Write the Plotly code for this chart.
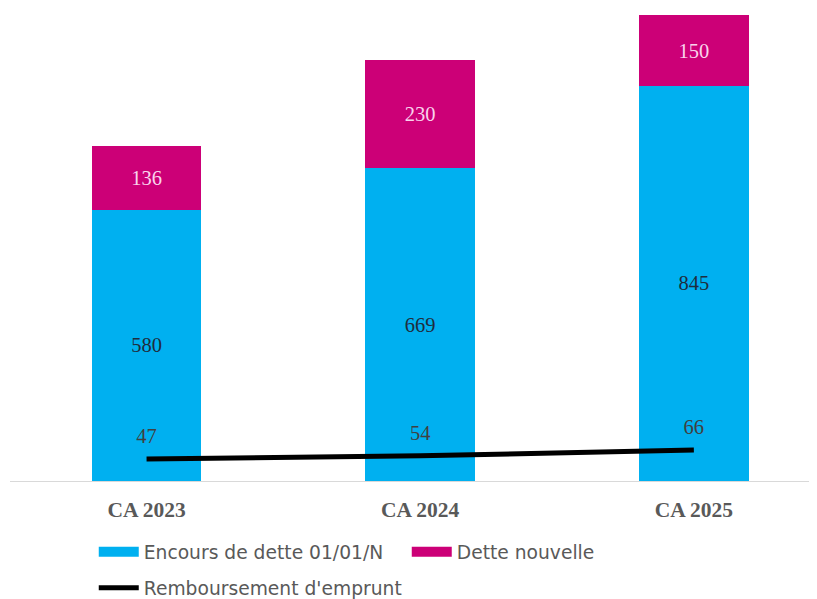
import plotly.graph_objects as go

categories = ["CA 2023", "CA 2024", "CA 2025"]
encours = [580, 669, 845]
dette_nouvelle = [136, 230, 150]
remboursement = [47, 54, 66]

SERIF = "Liberation Serif, Times New Roman, serif"
SANS = "DejaVu Sans, Verdana, sans-serif"
BLUE = "#00B0F0"
MAGENTA = "#CC0077"

fig = go.Figure()
fig.add_trace(go.Bar(
    x=categories, y=encours, name="Encours de dette 01/01/N",
    marker=dict(color=BLUE, line=dict(width=0)),
    text=[str(v) for v in encours], textposition="inside", insidetextanchor="middle",
    textfont=dict(family=SERIF, size=20.5, color="#1F2D3D"),
    showlegend=False,
))
fig.add_trace(go.Bar(
    x=categories, y=dette_nouvelle, name="Dette nouvelle",
    marker=dict(color=MAGENTA, line=dict(width=0)),
    text=[str(v) for v in dette_nouvelle], textposition="inside", insidetextanchor="middle",
    textfont=dict(family=SERIF, size=20.5, color="#F9D3EC"),
    showlegend=False,
))
fig.add_trace(go.Scatter(
    x=categories, y=remboursement, name="Remboursement d'emprunt",
    mode="lines+markers+text",
    line=dict(color="#000000", width=5),
    marker=dict(size=16, color="rgba(0,0,0,0)"),
    text=[str(v) for v in remboursement], textposition="top center",
    textfont=dict(family=SERIF, size=20.5, color="#404040"),
    legend="legend2",
))
# legend-only entries with wide rectangular swatches for the bar series
fig.add_trace(go.Scatter(x=[None], y=[None], mode="lines", name="Encours de dette 01/01/N",
                         line=dict(color=BLUE, width=10), legend="legend"))
fig.add_trace(go.Scatter(x=[None], y=[None], mode="lines", name="Dette nouvelle",
                         line=dict(color=MAGENTA, width=10), legend="legend"))

fig.update_layout(
    width=809, height=591,
    barmode="stack", bargap=0.6,
    paper_bgcolor="white", plot_bgcolor="white",
    margin=dict(l=2, r=0, t=0, b=118),
    showlegend=True,
    legend=dict(orientation="h", xref="container", yref="container",
                x=0.106, y=0.0795, xanchor="left", yanchor="middle",
                font=dict(family=SANS, size=18.7, color="#595959"),
                itemwidth=40, entrywidth=258, traceorder="normal"),
    legend2=dict(orientation="h", xref="container", yref="container",
                 x=0.106, y=0.0186, xanchor="left", yanchor="middle",
                 font=dict(family=SANS, size=18.7, color="#595959"),
                 itemwidth=40),
    xaxis=dict(range=[-0.499, 2.45], showline=True, linecolor="#D9D9D9", linewidth=1,
               showgrid=False, zeroline=False,
               tickfont=dict(family=SERIF, size=21.5, color="#595959", weight="bold"),
               ticks="", ticklabelstandoff=9),
    yaxis=dict(range=[0, 1011], visible=False, showgrid=False, zeroline=False),
    uniformtext=dict(mode=False),
)

fig.write_html("out.html")
